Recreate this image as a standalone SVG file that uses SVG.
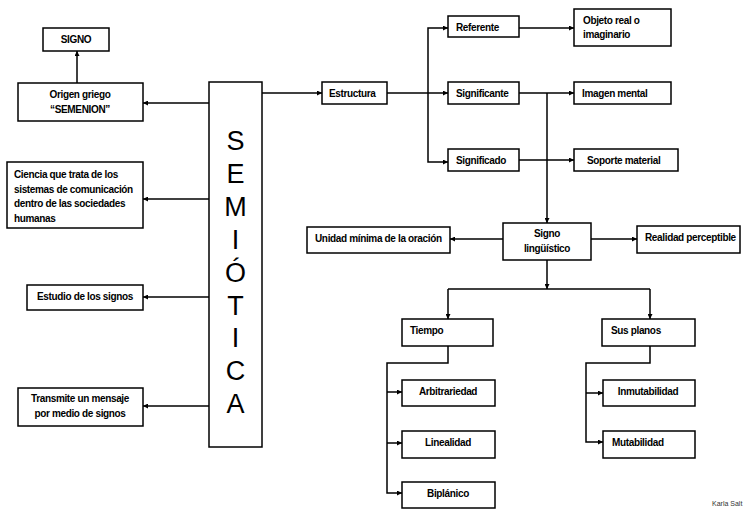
<svg xmlns="http://www.w3.org/2000/svg" width="745" height="509" viewBox="0 0 745 509">
<defs>
<marker id="ah" viewBox="0 0 10 10" refX="10" refY="5" markerWidth="5" markerHeight="5" orient="auto" markerUnits="userSpaceOnUse">
<path d="M0,0 L10,5 L0,10 z" fill="#000"/>
</marker>
<style>
rect{fill:#fff;stroke:#000;stroke-width:1.5}
text{font-family:"Liberation Sans",Arial,sans-serif;font-weight:bold;font-size:10px;letter-spacing:-0.35px;fill:#000}
.c{text-anchor:middle}
.big{font-weight:normal;font-size:27px;letter-spacing:0;text-anchor:middle}
.sig{font-weight:normal;font-size:7px;letter-spacing:0;fill:#333}
#conn path{fill:none;stroke:#000;stroke-width:1.5}
.a{marker-end:url(#ah)}
</style>
</defs>
<rect x="0" y="0" width="745" height="509" style="fill:#fff;stroke:none"/>
<g id="conn">
<path class="a" d="M209,103H143"/>
<path class="a" d="M77,83V51"/>
<path class="a" d="M209,199H143"/>
<path class="a" d="M209,297H143"/>
<path class="a" d="M209,406H143"/>
<path class="a" d="M262,93H322"/>
<path class="a" d="M387,93H448"/>
<path class="a" d="M428,93V28H448"/>
<path class="a" d="M428,93V162H448"/>
<path class="a" d="M519,28H574"/>
<path class="a" d="M519,93H574"/>
<path class="a" d="M519,160H574"/>
<path class="a" d="M547,93V223"/>
<path class="a" d="M503,239H450"/>
<path class="a" d="M591,239H637"/>
<path class="a" d="M547,260V289"/>
<path d="M448,289H650"/>
<path class="a" d="M448,289V319"/>
<path class="a" d="M650,289V319"/>
<path class="a" d="M448,346V363H387V493H402"/>
<path class="a" d="M387,392H402"/>
<path class="a" d="M387,443H402"/>
<path class="a" d="M650,346V363H586V442H603"/>
<path class="a" d="M586,393H603"/>
</g>
<g id="signo"><rect x="43" y="28" width="66" height="23"/><text class="c" x="76" y="43">SIGNO</text></g>
<g id="origen"><rect x="18" y="83" width="125" height="38"/><text class="c" x="80" y="98">Origen griego</text><text class="c" x="80" y="113">“SEMENION”</text></g>
<g id="semiotica"><rect x="209" y="82" width="53" height="365"/>
<text class="big" x="235.5" y="150">S</text>
<text class="big" x="235.5" y="183">E</text>
<text class="big" x="235.5" y="216">M</text>
<text class="big" x="235.5" y="249">I</text>
<text class="big" x="235.5" y="282">Ó</text>
<text class="big" x="235.5" y="315">T</text>
<text class="big" x="235.5" y="347">I</text>
<text class="big" x="235.5" y="380">C</text>
<text class="big" x="235.5" y="413">A</text>
</g>
<g id="ciencia"><rect x="7" y="162" width="136" height="66"/><text x="14" y="178">Ciencia que trata de los</text><text x="14" y="192.5">sistemas de comunicación</text><text x="14" y="207">dentro de las sociedades</text><text x="14" y="221.5">humanas</text></g>
<g id="estudio"><rect x="27" y="285" width="116" height="25"/><text class="c" x="85" y="300">Estudio de los signos</text></g>
<g id="transmite"><rect x="18" y="388" width="125" height="38"/><text class="c" x="80" y="402">Transmite un mensaje</text><text class="c" x="80" y="417">por medio de signos</text></g>
<g id="estructura"><rect x="322" y="82" width="65" height="22"/><text x="329" y="97">Estructura</text></g>
<g id="referente"><rect x="448" y="16" width="71" height="21"/><text x="456" y="30.5">Referente</text></g>
<g id="significante"><rect x="448" y="82" width="71" height="22"/><text x="456" y="97">Significante</text></g>
<g id="significado"><rect x="448" y="149" width="71" height="22"/><text x="456" y="164">Significado</text></g>
<g id="objeto"><rect x="574" y="9" width="97" height="37"/><text x="583" y="24">Objeto real o</text><text x="583" y="38">imaginario</text></g>
<g id="imagen"><rect x="574" y="82" width="97" height="22"/><text x="582" y="97">Imagen mental</text></g>
<g id="soporte"><rect x="574" y="149" width="104" height="22"/><text x="587" y="164">Soporte material</text></g>
<g id="signoling"><rect x="503" y="223" width="88" height="37"/><text class="c" x="547" y="237">Signo</text><text class="c" x="547" y="252">lingüístico</text></g>
<g id="unidad"><rect x="307" y="227" width="143" height="26"/><text x="315" y="242">Unidad mínima de la oración</text></g>
<g id="realidad"><rect x="637" y="226" width="103" height="27"/><text x="645" y="241">Realidad perceptible</text></g>
<g id="tiempo"><rect x="402" y="319" width="91" height="27"/><text x="410" y="334">Tiempo</text></g>
<g id="susplanos"><rect x="602" y="319" width="93" height="27"/><text x="611" y="334">Sus planos</text></g>
<g id="arbitrariedad"><rect x="402" y="380" width="93" height="26"/><text class="c" x="448" y="395">Arbitrariedad</text></g>
<g id="linealidad"><rect x="402" y="431" width="93" height="27"/><text class="c" x="448" y="446">Linealidad</text></g>
<g id="biplanico"><rect x="402" y="482" width="93" height="26"/><text class="c" x="448" y="497">Biplánico</text></g>
<g id="inmutabilidad"><rect x="603" y="380" width="92" height="26"/><text class="c" x="648" y="395">Inmutabilidad</text></g>
<g id="mutabilidad"><rect x="603" y="431" width="92" height="27"/><text x="612" y="446">Mutabilidad</text></g>
<text class="sig" x="712" y="506">Karla Salt</text>
</svg>
